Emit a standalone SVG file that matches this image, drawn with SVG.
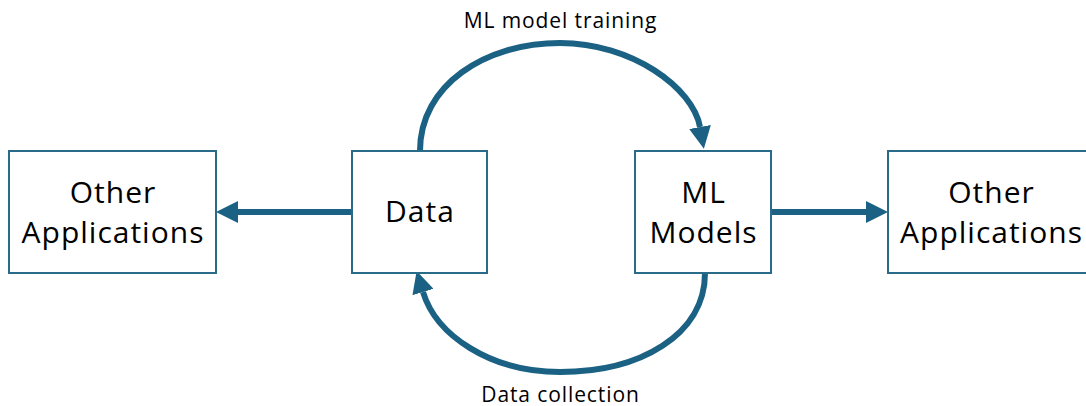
<svg xmlns="http://www.w3.org/2000/svg" width="1086" height="406" viewBox="0 0 1086 406">
  <style>
    .box { fill: #ffffff; stroke: #2a6b89; stroke-width: 2; }
    .label { font-family: "Open Sans", "Noto Sans", sans-serif; font-size: 30px; letter-spacing: 1px; fill: #000000; text-anchor: middle; }
    .caption { font-family: "Open Sans", "Noto Sans", sans-serif; font-size: 21px; letter-spacing: 0.9px; fill: #000000; text-anchor: middle; }
    .flow { fill: none; stroke: #1b6183; stroke-width: 6; marker-end: url(#head); }
  </style>
  <defs>
    <marker id="head" markerUnits="userSpaceOnUse" viewBox="0 0 22 22" markerWidth="22" markerHeight="22" refX="0" refY="11" orient="auto">
      <path d="M0,0 L22,11 L0,22 Z" fill="#1b6183"/>
    </marker>
  </defs>
  <rect width="1086" height="406" fill="#ffffff"/>

  <g id="connectors">
    <path class="flow" d="M352,212 L238,212"/>
    <path class="flow" d="M771,212 L866,212"/>
    <path class="flow" d="M420,151 C420,85 485,43 560,43 C632,43 693,88 700,127"/>
    <path class="flow" d="M705,273 C705,335 640,372 560,372 C490,372 436,335 423,292"/>
    <text class="caption" x="560.5" y="28">ML model training</text>
    <text class="caption" x="560.5" y="402">Data collection</text>
  </g>

  <g id="other-apps-left">
    <rect class="box" x="9" y="151" width="207" height="122"/>
    <text class="label" x="113" y="203">Other</text>
    <text class="label" x="113" y="243">Applications</text>
  </g>

  <g id="data">
    <rect class="box" x="352" y="151" width="135" height="122"/>
    <text class="label" x="420" y="222">Data</text>
  </g>

  <g id="ml-models">
    <rect class="box" x="635" y="151" width="136" height="122"/>
    <text class="label" x="703.5" y="203">ML</text>
    <text class="label" x="703.5" y="243">Models</text>
  </g>

  <g id="other-apps-right">
    <rect class="box" x="888" y="151" width="207" height="122"/>
    <text class="label" x="991.5" y="203">Other</text>
    <text class="label" x="991.5" y="243">Applications</text>
  </g>
</svg>
